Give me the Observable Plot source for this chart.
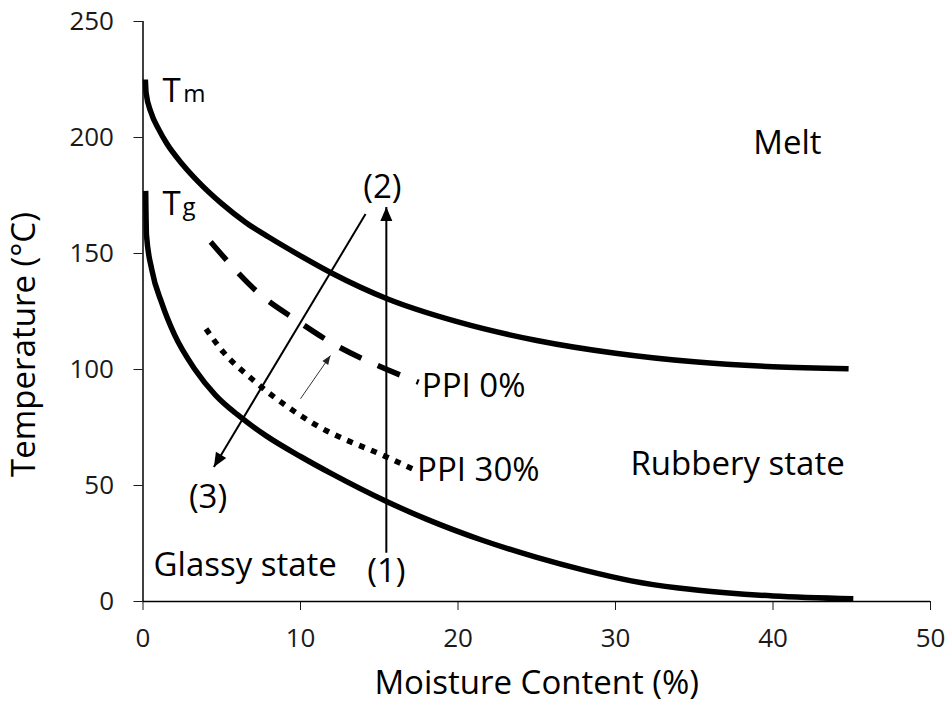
<!DOCTYPE html>
<html>
<head>
<meta charset="utf-8">
<script src="https://cdn.jsdelivr.net/npm/d3@7"></script>
<script src="https://cdn.jsdelivr.net/npm/@observablehq/plot@0.6"></script>
<style>
  html, body { margin: 0; padding: 0; background: #fff; }
  #chart { width: 948px; height: 708px; }
</style>
</head>
<body>
<div id="chart"></div>
<script>
// ---- data ----
const xTicks = [0, 10, 20, 30, 40, 50];
const yTicks = [0, 50, 100, 150, 200, 250];

// Tm (melting) curve
const tmX = [0.15, 0.2, 0.5, 1, 1.5, 2.5, 3.5, 5, 6.5, 8, 10, 12, 15.5, 20, 25, 30, 35, 40, 44.8];
const tmY = [225, 219, 211, 203.5, 197.5, 188.5, 181, 171.5, 163.5, 157, 149, 141.5, 130.5, 120.5, 112.5, 107, 103.3, 101.2, 100.3];

// Tg (glass transition) curve
const tgX = [0.17, 0.22, 0.56, 1.2, 2, 3.3, 4.6, 6, 7.8, 10, 12, 15.5, 18, 21.5, 25, 28, 31, 34, 37, 40, 45.1];
const tgY = [177, 158, 143, 128.5, 115, 100, 89, 80.5, 71.5, 62.5, 55, 43, 35.5, 26.5, 19, 13.5, 8.9, 5.8, 3.8, 2.4, 1.2];

// PPI 0% (dashed)
const ppi0X = [4.3, 7.45, 9.8, 12.1, 14.9, 17.5];
const ppi0Y = [155, 132.3, 121, 111, 101.7, 94.5];

// PPI 30% (dotted)
const ppi30X = [4.0, 5.1, 6.9, 10.85, 15.5, 17.1];
const ppi30Y = [117.5, 107.5, 96, 76.6, 62.2, 57.2];

// annotation labels
const labelText = ["Melt", "Rubbery state", "Glassy state", "PPI 0%", "PPI 30%"];
const labelX = [38.75, 30.95, 0.67, 17.7, 17.4];
const labelY = [197.3, 58.9, 15.4, 92.6, 56.3];

const numText = ["(1)", "(2)", "(3)"];
const numX = [15.45, 15.2, 4.13];
const numY = [12.8, 178.4, 45];

const symT = ["T", "T"];
const symSub = ["m", "g"];
const symX = [1.24, 1.24];
const symSubX = [2.55, 2.5];
const symY = [215.2, 166.4];

// arrows: from (x1,y1) to tip (x2,y2)
const bigArrowX1 = [15.45, 14.13];
const bigArrowY1 = [21, 167];
const bigArrowX2 = [15.45, 4.5];
const bigArrowY2 = [170, 58];
const smallArrowX1 = [10.0];
const smallArrowY1 = [87.4];
const smallArrowX2 = [11.9];
const smallArrowY2 = [106];

// ---- layout ----
const W = 948, H = 708;
const mL = 142.5, mR = 18, mT = 21, mB = 107;
const xDomain = [0, 50], yDomain = [0, 250];
const sx = d3.scaleLinear(xDomain, [mL, W - mR]);
const sy = d3.scaleLinear(yDomain, [H - mB, mT]);

const toPts = (xs, ys) => xs.map((x, i) => ({x, y: ys[i]}));
const tm = toPts(tmX, tmY);
const tg = toPts(tgX, tgY);
const ppi0 = toPts(ppi0X, ppi0Y);
const ppi30 = toPts(ppi30X, ppi30Y);
const labels = labelText.map((t, i) => ({t, x: labelX[i], y: labelY[i]}));
const nums = numText.map((t, i) => ({t, x: numX[i], y: numY[i]}));
const syms = symT.map((t, i) => ({t, s: symSub[i], x: symX[i], xs: symSubX[i], y: symY[i]}));

function arrows(x1, y1, x2, y2) {
  return x1.map((_, i) => {
    const dx = sx(x2[i]) - sx(x1[i]);
    const dy = sy(y2[i]) - sy(y1[i]);
    const angle = Math.atan2(dx, -dy) * 180 / Math.PI;
    return {x1: x1[i], y1: y1[i], x2: x2[i], y2: y2[i], angle};
  });
}
const bigArrows = arrows(bigArrowX1, bigArrowY1, bigArrowX2, bigArrowY2);
const smallArrows = arrows(smallArrowX1, smallArrowY1, smallArrowX2, smallArrowY2);

function headSymbol(len, wid) {
  return {
    draw(ctx) {
      ctx.moveTo(0, 0);
      ctx.lineTo(-wid / 2, len);
      ctx.lineTo(wid / 2, len);
      ctx.closePath();
    }
  };
}

const font = "'Open Sans', 'Noto Sans', sans-serif";

const chart = Plot.plot({
  width: W,
  height: H,
  marginLeft: mL,
  marginRight: mR,
  marginTop: mT,
  marginBottom: mB,
  style: {fontFamily: font, fontSize: "26px", color: "#1a1a1a", background: "#fff", overflow: "visible"},
  x: {domain: xDomain, ticks: xTicks, tickSize: 9, tickPadding: 18, label: null, tickFormat: d => String(d)},
  y: {domain: yDomain, ticks: yTicks, tickSize: 9, tickPadding: 20, label: null, tickFormat: d => String(d)},
  marks: [
    // axis lines
    Plot.ruleX([0], {stroke: "#000", strokeWidth: 1.5}),
    Plot.ruleY([0], {stroke: "#000", strokeWidth: 1.5}),
    // curves
    Plot.line(tm, {x: "x", y: "y", curve: "monotone-x", stroke: "#000", strokeWidth: 5.5, strokeLinecap: "butt"}),
    Plot.line(tg, {x: "x", y: "y", curve: "monotone-x", stroke: "#000", strokeWidth: 5.5, strokeLinecap: "butt"}),
    Plot.line(ppi0, {x: "x", y: "y", curve: "monotone-x", stroke: "#000", strokeWidth: 5.5, strokeDasharray: "24,18", strokeLinecap: "butt"}),
    Plot.line(ppi30, {x: "x", y: "y", curve: "monotone-x", stroke: "#000", strokeWidth: 5.5, strokeDasharray: "6,7", strokeLinecap: "butt"}),
    // arrows
    Plot.link(bigArrows, {x1: "x1", y1: "y1", x2: "x2", y2: "y2", stroke: "#000", strokeWidth: 2}),
    Plot.dot(bigArrows, {x: "x2", y: "y2", rotate: "angle", symbol: headSymbol(14, 12), fill: "#000", stroke: "none"}),
    Plot.link(smallArrows, {x1: "x1", y1: "y1", x2: "x2", y2: "y2", stroke: "#333", strokeWidth: 1}),
    Plot.dot(smallArrows, {x: "x2", y: "y2", rotate: "angle", symbol: headSymbol(9, 7), fill: "#222", stroke: "none"}),
    // labels
    Plot.text(labels, {x: "x", y: "y", text: "t", textAnchor: "start", fontSize: 33, fill: "#000"}),
    Plot.text(nums, {x: "x", y: "y", text: "t", textAnchor: "middle", fontSize: 33, fill: "#000"}),
    Plot.text(syms, {x: "x", y: "y", text: "t", textAnchor: "start", lineAnchor: "bottom", fontSize: 33, fill: "#000"}),
    Plot.text(syms, {x: "xs", y: "y", text: "s", textAnchor: "start", lineAnchor: "bottom", fontSize: 24, fill: "#000"}),
    // axis titles
    Plot.text(["Moisture Content (%)"], {frameAnchor: "bottom", textAnchor: "middle", dy: 92, fontSize: 33, fill: "#000"}),
    Plot.text(["Temperature (\u00B0C)"], {frameAnchor: "left", textAnchor: "middle", rotate: -90, dx: -119, dy: 33, fontSize: 33, fill: "#000"})
  ]
});

document.getElementById("chart").appendChild(chart);
</script>
</body>
</html>
